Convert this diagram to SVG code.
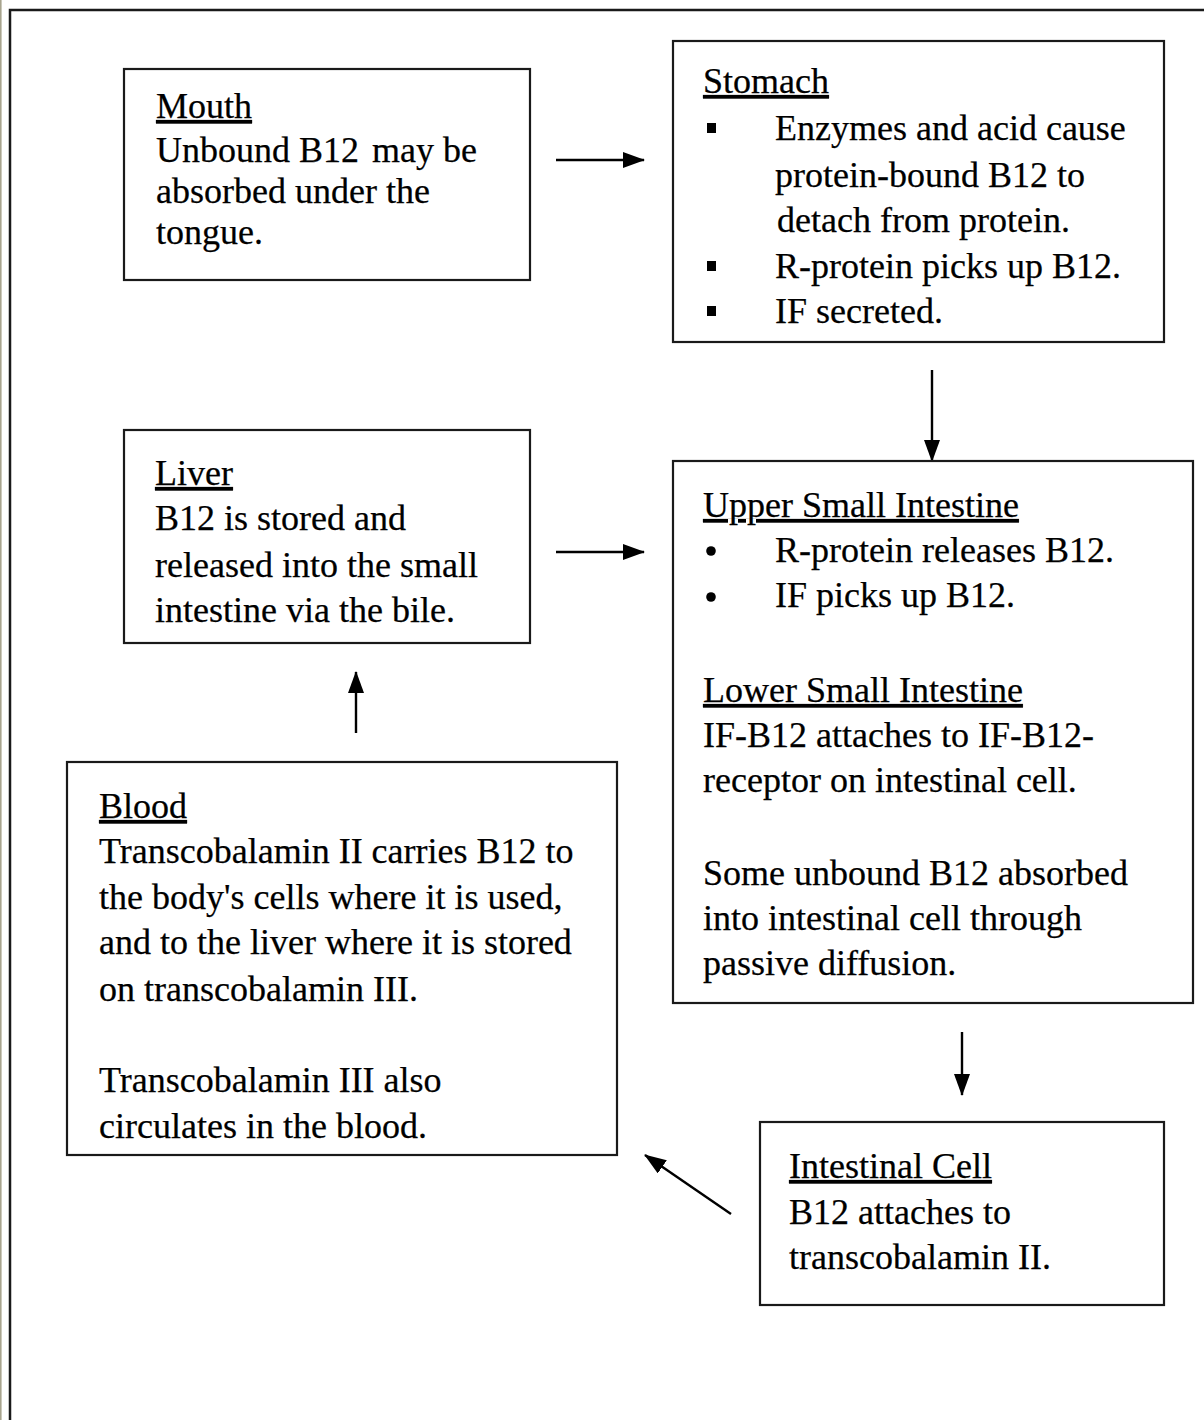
<svg xmlns="http://www.w3.org/2000/svg" width="1204" height="1420" viewBox="0 0 1204 1420">
<style>
  .box{fill:#fff;stroke:#1a1a1a;stroke-width:2.2}
  .t{font-family:"Liberation Serif","Times New Roman",serif;font-size:36px;fill:#000;stroke:#000;stroke-width:0.25}
  .h{text-decoration:underline}
  .c{stroke:#000;stroke-width:2.4;fill:none}
</style>
<defs>
  <marker id="a" viewBox="0 0 22 16" refX="21" refY="8" markerWidth="22" markerHeight="16" markerUnits="userSpaceOnUse" orient="auto">
    <path d="M0,0 L22,8 L0,16 z" fill="#000"/>
  </marker>
</defs>
<rect x="0" y="0" width="1204" height="1420" fill="#fff"/>
<line x1="0.8" y1="0" x2="0.8" y2="1420" stroke="#a8a48e" stroke-width="1.6"/>
<path d="M10,1420 L10,10 L1204,10" fill="none" stroke="#1a1a1a" stroke-width="2.5"/>

<g id="connectors">
  <line class="c" x1="556" y1="160" x2="644" y2="160" marker-end="url(#a)"/>
  <line class="c" x1="556" y1="552" x2="644" y2="552" marker-end="url(#a)"/>
  <line class="c" x1="932" y1="370" x2="932" y2="461" marker-end="url(#a)"/>
  <line class="c" x1="962" y1="1032" x2="962" y2="1095" marker-end="url(#a)"/>
  <line class="c" x1="356" y1="733" x2="356" y2="672" marker-end="url(#a)"/>
  <line class="c" x1="731" y1="1214" x2="645" y2="1155" marker-end="url(#a)"/>
</g>

<g id="mouth">
  <rect class="box" x="124" y="69" width="406" height="211"/>
  <text class="t h" x="156" y="118">Mouth</text>
  <text class="t" x="156" y="162">Unbound B12 <tspan dx="4">may be</tspan></text>
  <text class="t" x="156" y="203">absorbed under the</text>
  <text class="t" x="156" y="244">tongue.</text>
</g>

<g id="stomach">
  <rect class="box" x="673" y="41" width="491" height="301"/>
  <text class="t h" x="703" y="93">Stomach</text>
  <rect x="707" y="123" width="9" height="10" fill="#000"/>
  <text class="t" x="775" y="140">Enzymes and acid cause</text>
  <text class="t" x="775" y="187">protein-bound B12 to</text>
  <text class="t" x="777" y="232">detach from protein.</text>
  <rect x="707" y="261" width="9" height="10" fill="#000"/>
  <text class="t" x="775" y="278">R-protein picks up B12.</text>
  <rect x="707" y="306" width="9" height="10" fill="#000"/>
  <text class="t" x="775" y="323">IF secreted.</text>
</g>

<g id="liver">
  <rect class="box" x="124" y="430" width="406" height="213"/>
  <text class="t h" x="155" y="485">Liver</text>
  <text class="t" x="155" y="530">B12 is stored and</text>
  <text class="t" x="155" y="577">released into the small</text>
  <text class="t" x="155" y="622">intestine via the bile.</text>
</g>

<g id="small-intestine">
  <rect class="box" x="673" y="461" width="520" height="542"/>
  <text class="t h" x="703" y="517">Upper Small Intestine</text>
  <circle cx="711" cy="551" r="4.8" fill="#000"/>
  <text class="t" x="775" y="562">R-protein releases B12.</text>
  <circle cx="711" cy="597" r="4.8" fill="#000"/>
  <text class="t" x="775" y="607">IF picks up B12.</text>
  <text class="t h" x="703" y="702">Lower Small Intestine</text>
  <text class="t" x="703" y="747">IF-B12 attaches to IF-B12-</text>
  <text class="t" x="703" y="792">receptor on intestinal cell.</text>
  <text class="t" x="703" y="885">Some unbound B12 absorbed</text>
  <text class="t" x="703" y="930">into intestinal cell through</text>
  <text class="t" x="703" y="975">passive diffusion.</text>
</g>

<g id="blood">
  <rect class="box" x="67" y="762" width="550" height="393"/>
  <text class="t h" x="99" y="818">Blood</text>
  <text class="t" x="99" y="863">Transcobalamin II carries B12 to</text>
  <text class="t" x="99" y="909">the body's cells where it is used,</text>
  <text class="t" x="99" y="954">and to the liver where it is stored</text>
  <text class="t" x="99" y="1001">on transcobalamin III.</text>
  <text class="t" x="99" y="1092">Transcobalamin III also</text>
  <text class="t" x="99" y="1138">circulates in the blood.</text>
</g>

<g id="intestinal-cell">
  <rect class="box" x="760" y="1122" width="404" height="183"/>
  <text class="t h" x="789" y="1178">Intestinal Cell</text>
  <text class="t" x="789" y="1224">B12 attaches to</text>
  <text class="t" x="789" y="1269">transcobalamin II.</text>
</g>
</svg>
